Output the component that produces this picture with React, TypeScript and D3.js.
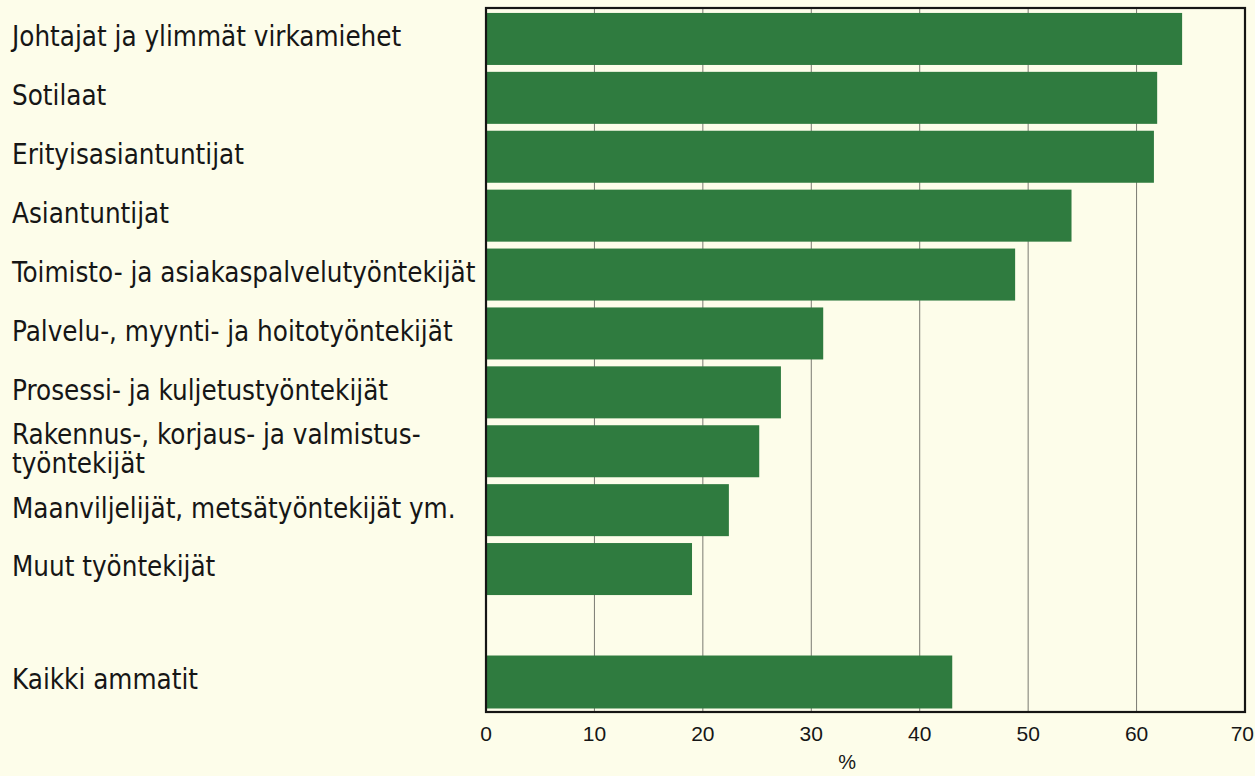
import React from "react";
import * as d3 from "d3";

// Osuus (%) ammattiryhmittäin
const categories = [
  "Johtajat ja ylimmät virkamiehet",
  "Sotilaat",
  "Erityisasiantuntijat",
  "Asiantuntijat",
  "Toimisto- ja asiakaspalvelutyöntekijät",
  "Palvelu-, myynti- ja hoitotyöntekijät",
  "Prosessi- ja kuljetustyöntekijät",
  "Rakennus-, korjaus- ja valmistus-\ntyöntekijät",
  "Maanviljelijät, metsätyöntekijät ym.",
  "Muut työntekijät",
];
const values = [64.2, 61.9, 61.6, 54.0, 48.8, 31.1, 27.2, 25.2, 22.4, 19.0];

const totalLabel = "Kaikki ammatit";
const totalValue = 43.0;

const xTicks = [0, 10, 20, 30, 40, 50, 60, 70];
const xTitle = "%";

const W = 1255;
const H = 776;
const PLOT = { left: 486, right: 1245, top: 8, bottom: 712 };

const BG = "#fdfdea";
const BAR = "#2f7b3f";
const GRID = "#7a7a72";
const LABEL_FONT = "'Liberation Sans Narrow', 'DejaVu Sans Condensed', 'Arial Narrow', sans-serif";
const TICK_FONT = "'Liberation Sans', Arial, sans-serif";

export default function App() {
  const x = d3.scaleLinear().domain([0, 70]).range([PLOT.left, PLOT.right]);

  // ten groups on top, "Kaikki ammatit" set apart at the bottom
  const y = d3
    .scaleBand<string>()
    .domain(categories)
    .range([9.5, 598.5])
    .paddingInner(0.117)
    .paddingOuter(0.0585);
  const yTotal = d3
    .scaleBand<string>()
    .domain([totalLabel])
    .range([652, 712])
    .paddingInner(0.117)
    .paddingOuter(0.0585);

  const rows = [
    ...categories.map((c, i) => ({ label: c, value: values[i], y0: y(c) ?? 0, bw: y.bandwidth() })),
    { label: totalLabel, value: totalValue, y0: yTotal(totalLabel) ?? 0, bw: yTotal.bandwidth() },
  ];

  const fs = 27.5;
  const lineH = 29;

  return (
    <svg
      width={W}
      height={H}
      style={{ position: "absolute", left: 0, top: 0, background: BG }}
    >
      <rect x={0} y={0} width={W} height={H} fill={BG} />

      {/* gridlines */}
      {xTicks.slice(1, -1).map((t) => (
        <line key={t} x1={x(t)} x2={x(t)} y1={PLOT.top} y2={PLOT.bottom} stroke={GRID} strokeWidth={1} />
      ))}

      {/* bars */}
      {rows.map((r) => (
        <rect
          key={r.label}
          x={x(0)}
          y={r.y0}
          width={x(r.value) - x(0)}
          height={r.bw}
          fill={BAR}
        />
      ))}

      {/* frame */}
      <rect
        x={PLOT.left}
        y={PLOT.top}
        width={PLOT.right - PLOT.left}
        height={PLOT.bottom - PLOT.top}
        fill="none"
        stroke="#151515"
        strokeWidth={2.2}
      />

      {/* category labels */}
      {rows.map((r) => {
        const lines = r.label.split("\n");
        const cy = r.y0 + r.bw / 2 - 2.5;
        const first = cy - ((lines.length - 1) * lineH) / 2 + fs * 0.36;
        return (
          <text key={r.label} x={12} fontFamily={LABEL_FONT} fontSize={fs} fill="#161616">
            {lines.map((l, i) => (
              <tspan key={i} x={12} y={first + i * lineH}>
                {l}
              </tspan>
            ))}
          </text>
        );
      })}

      {/* x tick labels; the last one kept inside the page */}
      {xTicks.map((t, i) => {
        const last = i === xTicks.length - 1;
        return (
          <text
            key={t}
            x={last ? W - 1 : x(t)}
            y={741}
            textAnchor={last ? "end" : "middle"}
            fontFamily={TICK_FONT}
            fontSize={21}
            fill="#161616"
          >
            {t}
          </text>
        );
      })}

      <text x={x(33.3)} y={769} textAnchor="middle" fontFamily={TICK_FONT} fontSize={20} fill="#161616">
        {xTitle}
      </text>
    </svg>
  );
}
